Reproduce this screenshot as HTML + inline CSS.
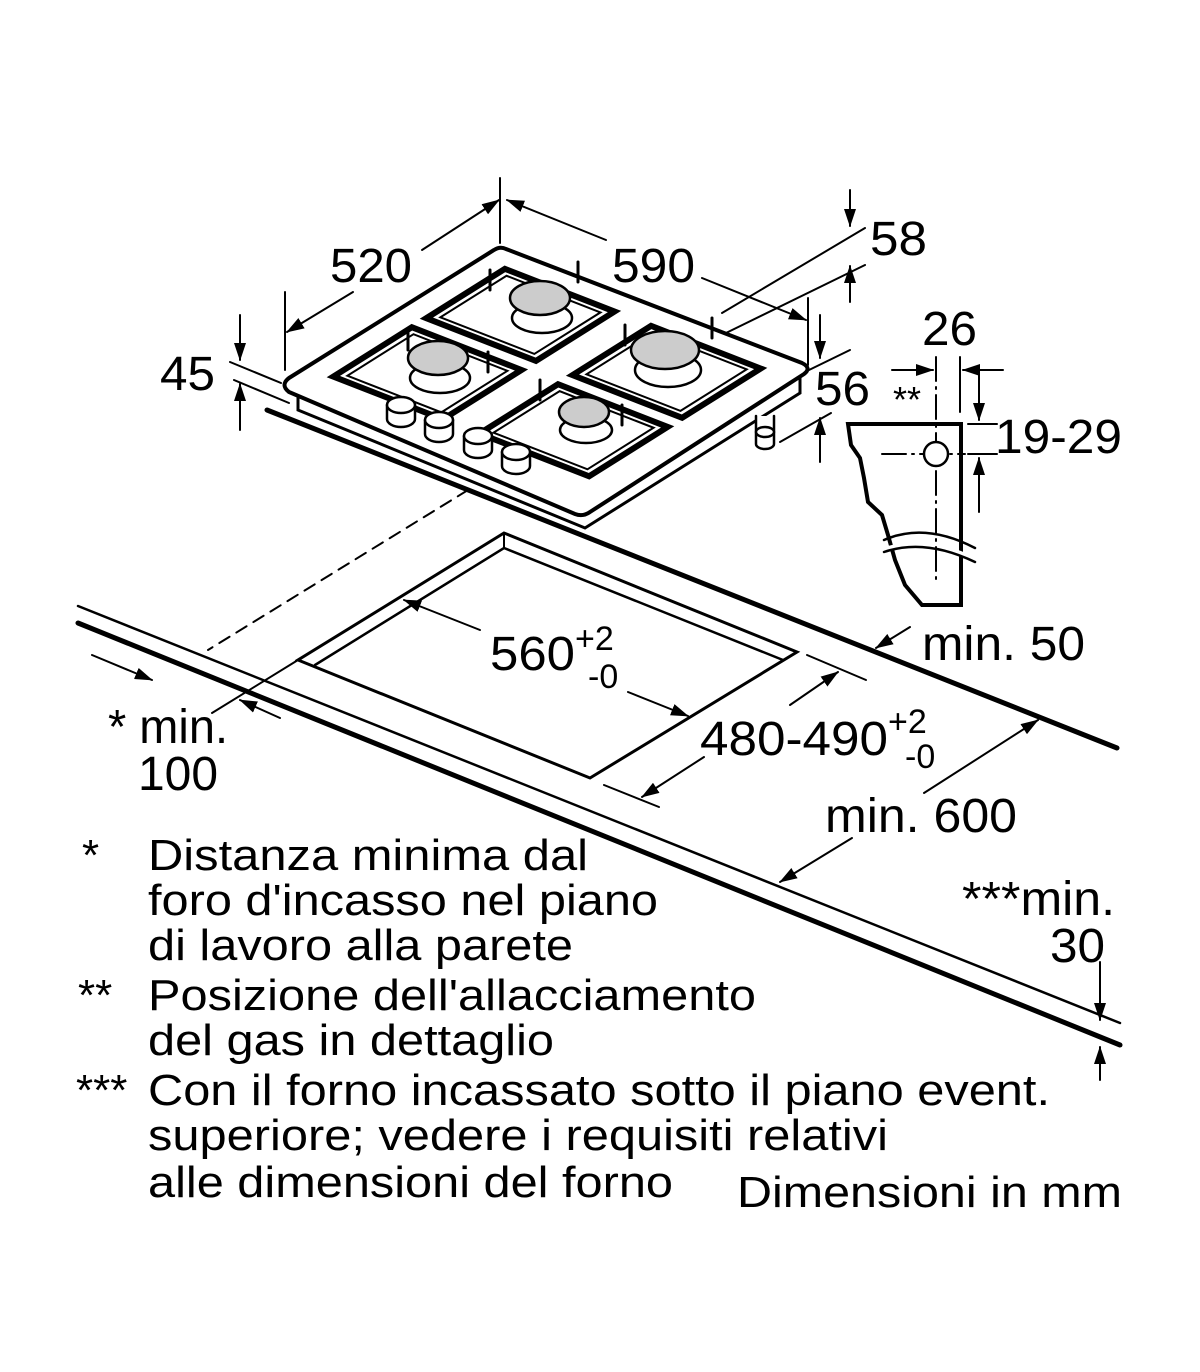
<!DOCTYPE html>
<html><head><meta charset="utf-8"><style>
html,body{margin:0;padding:0;background:#fff;}
svg{display:block;}
text{font-family:"Liberation Sans",Arial,sans-serif;fill:#000;}
</style></head><body>
<svg width="1200" height="1372" viewBox="0 0 1200 1372" xmlns="http://www.w3.org/2000/svg">
<defs>
<marker id="a" markerUnits="userSpaceOnUse" markerWidth="18" markerHeight="12" refX="17" refY="6" orient="auto"><path d="M0,0 L18,6 L0,12 Z" fill="#000"/></marker>
</defs>
<g stroke="#000" fill="none" stroke-linecap="round">
<line x1="78" y1="606" x2="1120" y2="1023" stroke-width="2.5"/>
<line x1="78" y1="623" x2="1120" y2="1045" stroke-width="5"/>
<line x1="267" y1="410" x2="1117" y2="748" stroke-width="5"/>
<polygon points="504,533 298,660 590,778 797,652" stroke-width="3" fill="#fff"/>
<polyline points="315,665 504,548 783,660" stroke-width="2.5"/>
<line x1="504" y1="533" x2="504" y2="548" stroke-width="2"/>
<line x1="468" y1="490" x2="208" y2="650" stroke-width="2" stroke-dasharray="12,8"/>
<line x1="298" y1="660" x2="212" y2="713" stroke-width="2"/>
<line x1="92" y1="655" x2="152" y2="680" stroke-width="2" marker-end="url(#a)"/>
<line x1="280" y1="718" x2="240" y2="700" stroke-width="2" marker-end="url(#a)"/>
<line x1="480" y1="630" x2="404" y2="600" stroke-width="2" marker-end="url(#a)"/>
<line x1="628" y1="692" x2="688" y2="716" stroke-width="2" marker-end="url(#a)"/>
<line x1="807" y1="655" x2="866" y2="680" stroke-width="2"/>
<line x1="604" y1="785" x2="659" y2="807" stroke-width="2"/>
<line x1="790" y1="705" x2="838" y2="672" stroke-width="2" marker-end="url(#a)"/>
<line x1="704" y1="757" x2="642" y2="797" stroke-width="2" marker-end="url(#a)"/>
<line x1="910" y1="627" x2="876" y2="648" stroke-width="2" marker-end="url(#a)"/>
<line x1="924" y1="793" x2="1038" y2="720" stroke-width="2" marker-end="url(#a)"/>
<line x1="852" y1="838" x2="780" y2="882" stroke-width="2" marker-end="url(#a)"/>
<line x1="1100" y1="962" x2="1100" y2="1020" stroke-width="2" marker-end="url(#a)"/>
<line x1="1100" y1="1080" x2="1100" y2="1047" stroke-width="2" marker-end="url(#a)"/>

<polyline points="298,390 298,410 585,528 800,393 800,378" stroke-width="3" fill="#fff"/>
<path d="M289,378 L494,250 Q500,246 506,249 L802,363 Q812,368 804,374 L590,512 Q583,517 575,514 L289,392 Q280,385 289,378 Z" stroke-width="4" fill="#fff"/>
<g transform="matrix(0.522,0.2034,0.4135,-0.2596,285,383)">
 <rect x="45" y="60" width="210" height="190" stroke-width="6" vector-effect="non-scaling-stroke"/>
 <rect x="60" y="75" width="180" height="160" stroke-width="2" vector-effect="non-scaling-stroke"/>
 <rect x="45" y="285" width="210" height="190" stroke-width="6" vector-effect="non-scaling-stroke"/>
 <rect x="60" y="300" width="180" height="160" stroke-width="2" vector-effect="non-scaling-stroke"/>
 <rect x="325" y="60" width="210" height="190" stroke-width="6" vector-effect="non-scaling-stroke"/>
 <rect x="340" y="75" width="180" height="160" stroke-width="2" vector-effect="non-scaling-stroke"/>
 <rect x="325" y="285" width="210" height="190" stroke-width="6" vector-effect="non-scaling-stroke"/>
 <rect x="340" y="300" width="180" height="160" stroke-width="2" vector-effect="non-scaling-stroke"/>
</g>
<!-- grate prongs -->
<g stroke-width="3">
 <line x1="408" y1="330" x2="408" y2="350"/><line x1="488" y1="352" x2="488" y2="372"/>
 <line x1="490" y1="270" x2="490" y2="290"/><line x1="578" y1="262" x2="578" y2="282"/>
 <line x1="625" y1="325" x2="625" y2="345"/><line x1="712" y1="318" x2="712" y2="338"/>
 <line x1="540" y1="380" x2="540" y2="400"/><line x1="622" y1="405" x2="622" y2="425"/>
</g>
<g stroke-width="2.5">
 <ellipse cx="440" cy="378" rx="30" ry="15" fill="#fff"/>
 <ellipse cx="438" cy="358" rx="30" ry="17" fill="#ccc"/>
 <ellipse cx="542" cy="318" rx="30" ry="15" fill="#fff"/>
 <ellipse cx="540" cy="298" rx="30" ry="17" fill="#ccc"/>
 <ellipse cx="668" cy="370" rx="33" ry="17" fill="#fff"/>
 <ellipse cx="665" cy="350" rx="34" ry="19" fill="#ccc"/>
 <ellipse cx="586" cy="430" rx="26" ry="13" fill="#fff"/>
 <ellipse cx="584" cy="412" rx="25" ry="15" fill="#ccc"/>
</g>
<g stroke-width="2.5" fill="#fff">
 <path d="M387,405 v14 a14,8 0 0 0 28,0 v-14"/><ellipse cx="401" cy="405" rx="14" ry="8"/>
 <path d="M425,420 v14 a14,8 0 0 0 28,0 v-14"/><ellipse cx="439" cy="420" rx="14" ry="8"/>
 <path d="M464,436 v14 a14,8 0 0 0 28,0 v-14"/><ellipse cx="478" cy="436" rx="14" ry="8"/>
 <path d="M502,452 v14 a14,8 0 0 0 28,0 v-14"/><ellipse cx="516" cy="452" rx="14" ry="8"/>
 <path d="M756,416 v28 a9,5 0 0 0 18,0 v-28"/><ellipse cx="765" cy="432" rx="9" ry="5"/>
</g>
<line x1="500" y1="178" x2="500" y2="243" stroke-width="2"/>
<line x1="285" y1="292" x2="285" y2="370" stroke-width="2"/>
<line x1="808" y1="298" x2="808" y2="365" stroke-width="2"/>
<line x1="353" y1="292" x2="287" y2="332" stroke-width="2" marker-end="url(#a)"/>
<line x1="422" y1="250" x2="499" y2="200" stroke-width="2" marker-end="url(#a)"/>
<line x1="606" y1="240" x2="507" y2="200" stroke-width="2" marker-end="url(#a)"/>
<line x1="702" y1="278" x2="806" y2="320" stroke-width="2" marker-end="url(#a)"/>
<line x1="230" y1="362" x2="281" y2="383" stroke-width="2"/>
<line x1="234" y1="380" x2="289" y2="403" stroke-width="2"/>
<line x1="240" y1="315" x2="240" y2="360" stroke-width="2" marker-end="url(#a)"/>
<line x1="240" y1="430" x2="240" y2="384" stroke-width="2" marker-end="url(#a)"/>
<line x1="722" y1="313" x2="865" y2="228" stroke-width="2"/>
<line x1="726" y1="333" x2="865" y2="265" stroke-width="2"/>
<line x1="850" y1="190" x2="850" y2="226" stroke-width="2" marker-end="url(#a)"/>
<line x1="850" y1="302" x2="850" y2="266" stroke-width="2" marker-end="url(#a)"/>
<line x1="809" y1="370" x2="850" y2="350" stroke-width="2"/>
<line x1="780" y1="442" x2="831" y2="413" stroke-width="2"/>
<line x1="820" y1="315" x2="820" y2="358" stroke-width="2" marker-end="url(#a)"/>
<line x1="820" y1="462" x2="820" y2="418" stroke-width="2" marker-end="url(#a)"/>
<path d="M848,424 L961,424 L961,605 L922,605 L905,585 L895,560 L888,535 L882,515 L868,502 L864,478 L860,458 L851,445 Z" stroke-width="4" fill="#fff"/>
<path d="M884,540 Q925,522 975,548" stroke-width="2.5"/>
<path d="M884,550 Q925,535 975,560" stroke-width="5" stroke="#fff"/>
<path d="M884,552 Q925,538 975,562" stroke-width="2.5"/>
<line x1="936" y1="357" x2="936" y2="580" stroke-width="2" stroke-dasharray="24,6,2,6"/>
<line x1="882" y1="454" x2="965" y2="454" stroke-width="2" stroke-dasharray="24,6,2,6"/>
<circle cx="936" cy="454" r="12" stroke-width="2.5" fill="#fff"/>
<line x1="960" y1="357" x2="960" y2="412" stroke-width="2"/>
<line x1="892" y1="370" x2="933" y2="370" stroke-width="2" marker-end="url(#a)"/>
<line x1="1003" y1="370" x2="963" y2="370" stroke-width="2" marker-end="url(#a)"/>
<line x1="968" y1="424" x2="997" y2="424" stroke-width="2"/>
<line x1="968" y1="454" x2="997" y2="454" stroke-width="2"/>
<line x1="979" y1="372" x2="979" y2="420" stroke-width="2" marker-end="url(#a)"/>
<line x1="979" y1="512" x2="979" y2="458" stroke-width="2" marker-end="url(#a)"/>
</g>
<g font-size="48">
<text x="330" y="282" textLength="82" lengthAdjust="spacingAndGlyphs">520</text>
<text x="612" y="282" textLength="83" lengthAdjust="spacingAndGlyphs">590</text>
<text x="870" y="255" textLength="57" lengthAdjust="spacingAndGlyphs">58</text>
<text x="160" y="390" textLength="55" lengthAdjust="spacingAndGlyphs">45</text>
<text x="815" y="405" textLength="55" lengthAdjust="spacingAndGlyphs">56</text>
<text x="922" y="345" textLength="55" lengthAdjust="spacingAndGlyphs">26</text>
<text x="995" y="453" textLength="127" lengthAdjust="spacingAndGlyphs">19-29</text>
<text x="922" y="660" textLength="163" lengthAdjust="spacingAndGlyphs">min. 50</text>
<text x="490" y="670" textLength="85" lengthAdjust="spacingAndGlyphs">560</text>
<text x="700" y="755" textLength="188" lengthAdjust="spacingAndGlyphs">480-490</text>
<text x="825" y="832" textLength="192" lengthAdjust="spacingAndGlyphs">min. 600</text>
<text x="108" y="743" textLength="120" lengthAdjust="spacingAndGlyphs">* min.</text>
<text x="138" y="790" textLength="80" lengthAdjust="spacingAndGlyphs">100</text>
<text x="962" y="915" textLength="153" lengthAdjust="spacingAndGlyphs">***min.</text>
<text x="1050" y="962" textLength="55" lengthAdjust="spacingAndGlyphs">30</text>
</g>
<g font-size="34">
<text x="575" y="650">+2</text>
<text x="588" y="688">-0</text>
<text x="888" y="733">+2</text>
<text x="905" y="768">-0</text>
</g>
<text x="893" y="412" font-size="36">**</text>
<g font-size="44">
<text x="82" y="870">*</text>
<text x="78" y="1010">**</text>
<text x="76" y="1105">***</text>
<text x="148" y="870" textLength="440" lengthAdjust="spacingAndGlyphs">Distanza minima dal</text>
<text x="148" y="915" textLength="510" lengthAdjust="spacingAndGlyphs">foro d'incasso nel piano</text>
<text x="148" y="960" textLength="425" lengthAdjust="spacingAndGlyphs">di lavoro alla parete</text>
<text x="148" y="1010" textLength="608" lengthAdjust="spacingAndGlyphs">Posizione dell'allacciamento</text>
<text x="148" y="1055" textLength="406" lengthAdjust="spacingAndGlyphs">del gas in dettaglio</text>
<text x="148" y="1105" textLength="902" lengthAdjust="spacingAndGlyphs">Con il forno incassato sotto il piano event.</text>
<text x="148" y="1150" textLength="740" lengthAdjust="spacingAndGlyphs">superiore; vedere i requisiti relativi</text>
<text x="148" y="1197" textLength="525" lengthAdjust="spacingAndGlyphs">alle dimensioni del forno</text>
<text x="737" y="1207" textLength="385" lengthAdjust="spacingAndGlyphs">Dimensioni in mm</text>
</g>
</svg>
</body></html>
